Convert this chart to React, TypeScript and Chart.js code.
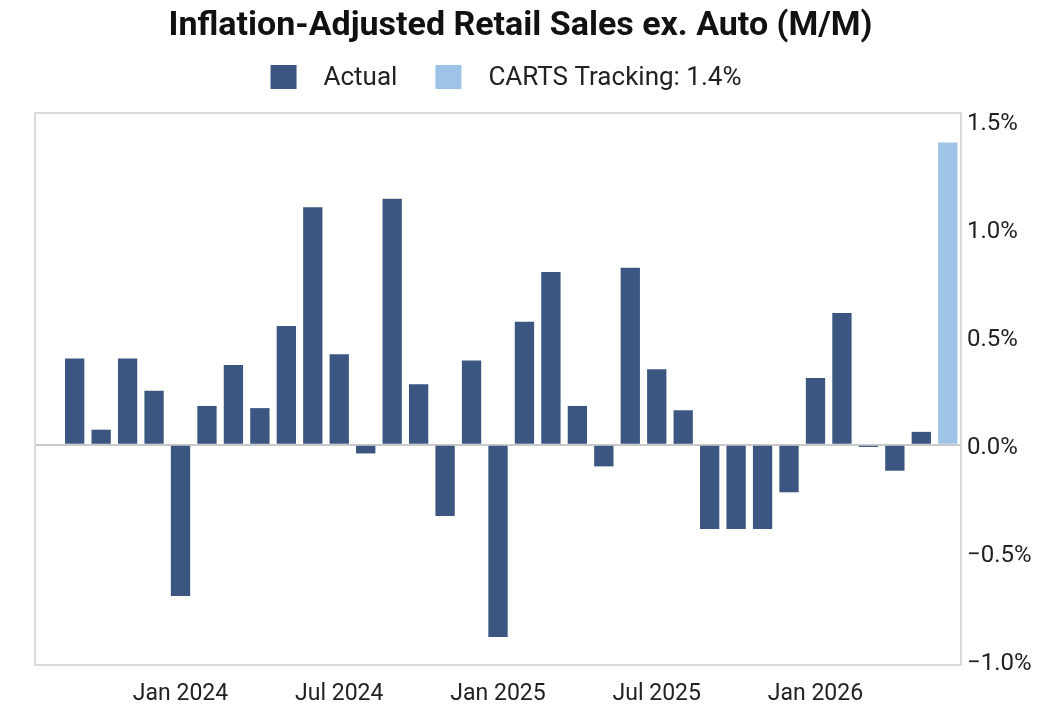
import { useEffect, useRef } from 'react';
import { Chart, registerables } from 'chart.js';

Chart.register(...registerables);

// Monthly categories (first slot left empty as spacing before the first bar)
const months = [
  'Aug 2023', 'Sep 2023', 'Oct 2023', 'Nov 2023', 'Dec 2023',
  'Jan 2024', 'Feb 2024', 'Mar 2024', 'Apr 2024', 'May 2024', 'Jun 2024',
  'Jul 2024', 'Aug 2024', 'Sep 2024', 'Oct 2024', 'Nov 2024', 'Dec 2024',
  'Jan 2025', 'Feb 2025', 'Mar 2025', 'Apr 2025', 'May 2025', 'Jun 2025',
  'Jul 2025', 'Aug 2025', 'Sep 2025', 'Oct 2025', 'Nov 2025', 'Dec 2025',
  'Jan 2026', 'Feb 2026', 'Mar 2026', 'Apr 2026', 'May 2026', 'Jun 2026',
];

// Real retail sales ex. autos, month-over-month % change
const actual: (number | null)[] = [
  null, 0.40, 0.07, 0.40, 0.25,
  -0.70, 0.18, 0.37, 0.17, 0.55, 1.10,
  0.42, -0.04, 1.14, 0.28, -0.33, 0.39,
  -0.89, 0.57, 0.80, 0.18, -0.10, 0.82,
  0.35, 0.16, -0.39, -0.39, -0.39, -0.22,
  0.31, 0.61, -0.01, -0.12, 0.06, null,
];

// CARTS nowcast for the latest month
const tracking: (number | null)[] = [
  null, null, null, null, null,
  null, null, null, null, null, null,
  null, null, null, null, null, null,
  null, null, null, null, null, null,
  null, null, null, null, null, null,
  null, null, null, null, null, 1.4,
];

const yTicks = [-1.0, -0.5, 0.0, 0.5, 1.0, 1.5];
const xTickMonths = ['Jan', 'Jul'];

const FONT = "Roboto, 'Noto Sans', sans-serif";
const DARK = '#3b5781';
const LIGHT = '#9dc3e7';
const TEXT = '#222222';

// Light frame around the plotting area
const framePlugin = {
  id: 'plotFrame',
  beforeDatasetsDraw(chart: any) {
    const { ctx, chartArea } = chart;
    ctx.save();
    ctx.strokeStyle = '#dadada';
    ctx.lineWidth = 2;
    ctx.strokeRect(chartArea.left, chartArea.top, chartArea.right - chartArea.left, chartArea.bottom - chartArea.top);
    ctx.restore();
  },
};

// Square-swatch legend drawn under the title
const swatchLegend = {
  id: 'swatchLegend',
  afterDraw(chart: any) {
    const { ctx } = chart;
    const box = 26;
    const gap = 27;
    const spacing = 38;
    const cy = 77;
    ctx.save();
    ctx.font = `26px ${FONT}`;
    ctx.textBaseline = 'middle';
    const items = chart.data.datasets.map((ds: any) => ({
      label: ds.label as string,
      color: ds.backgroundColor as string,
      w: ctx.measureText(ds.label).width,
    }));
    const total = items.reduce((s: number, it: any) => s + box + gap + it.w, 0) + spacing * (items.length - 1);
    let x = 506 - total / 2;
    items.forEach((it: any) => {
      ctx.fillStyle = it.color;
      ctx.fillRect(x, cy - 12, box, 24);
      x += box + gap;
      ctx.fillStyle = TEXT;
      ctx.fillText(it.label, x, cy + 1);
      x += it.w + spacing;
    });
    ctx.restore();
  },
};

export default function App() {
  const canvasRef = useRef<HTMLCanvasElement | null>(null);

  useEffect(() => {
    if (!canvasRef.current) return;
    const chart = new Chart(canvasRef.current, {
      type: 'bar',
      data: {
        labels: months,
        datasets: [
          {
            label: 'Actual',
            data: actual,
            backgroundColor: DARK,
            grouped: false,
            barPercentage: 0.73,
            categoryPercentage: 1,
            yAxisID: 'y',
          },
          {
            label: 'CARTS Tracking: 1.4%',
            data: tracking,
            backgroundColor: LIGHT,
            grouped: false,
            barPercentage: 0.73,
            categoryPercentage: 1,
            yAxisID: 'y',
          },
        ] as any,
      },
      options: {
        animation: false,
        responsive: true,
        maintainAspectRatio: false,
        layout: { padding: { top: 0, right: 0, bottom: 0, left: 0 } },
        plugins: {
          legend: { display: false },
          tooltip: { enabled: false },
          title: {
            display: true,
            text: 'Inflation-Adjusted Retail Sales ex. Auto (M/M)',
            color: '#111111',
            font: { family: FONT, size: 34, weight: 'bold' },
            padding: { top: 6, bottom: 66.2 },
          },
        },
        scales: {
          x: {
            offset: true,
            grid: { display: false },
            border: { display: false },
            ticks: {
              autoSkip: false,
              maxRotation: 0,
              color: TEXT,
              padding: 7,
              font: { family: FONT, size: 23 },
              callback: (_v: any, i: number) =>
                xTickMonths.some((m) => months[i].startsWith(m)) ? months[i] : '',
            },
            afterFit: (s: any) => { s.height = 63; },
          },
          yLeft: {
            position: 'left',
            display: true,
            grid: { display: false },
            border: { display: false },
            ticks: { display: false },
            afterFit: (s: any) => { s.width = 35; },
          },
          y: {
            position: 'right',
            min: -1.02,
            max: 1.537,
            border: { display: false },
            grid: {
              drawTicks: false,
              lineWidth: 2,
              color: (c: any) => (c.tick && c.tick.value === 0 ? '#c9c9c9' : 'rgba(0,0,0,0)'),
            },
            afterBuildTicks: (s: any) => { s.ticks = yTicks.map((v) => ({ value: v })); },
            ticks: {
              color: TEXT,
              padding: 6,
              labelOffset: 3,
              font: { family: FONT, size: 24 },
              callback: (v: any) => {
                const n = Number(v);
                const s = Math.abs(n).toFixed(1) + '%';
                return n < 0 ? '\u2212' + s : s;
              },
            },
            afterFit: (s: any) => { s.width = 80; },
          },
        },
      } as any,
      plugins: [framePlugin, swatchLegend],
    });
    return () => chart.destroy();
  }, []);

  return (
    <div style={{ position: 'fixed', left: 0, top: 0, width: 1041, height: 728, background: '#ffffff' }}>
      <canvas ref={canvasRef} />
    </div>
  );
}
